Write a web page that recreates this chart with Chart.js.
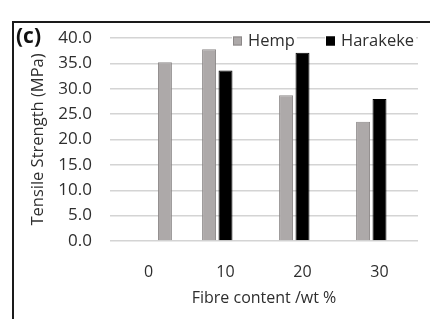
<!DOCTYPE html>
<html>
<head>
<meta charset="utf-8">
<script src="https://cdn.jsdelivr.net/npm/chart.js@4.4.1/dist/chart.umd.min.js"></script>
<style>
  html, body { margin: 0; padding: 0; background: #fff; }
  #wrap { position: relative; width: 430px; height: 319px; }
</style>
</head>
<body>
<div id="wrap"><canvas id="c" width="430" height="319"></canvas></div>
<script>
// chart data
const categories = ['0', '10', '20', '30'];
const hempValues = [null, 37.8, 28.7, 23.5];
const harakekeValues = [null, 33.6, 37.1, 28.0];
const neatValues = [35.2, null, null, null]; // unfilled matrix, drawn in hemp grey, no legend entry
const yTicks = [0, 5, 10, 15, 20, 25, 30, 35, 40];

const FONT = '"Open Sans", sans-serif';
const TEXT = '#2e2e2e';
const GREY = '#ada9a9';
const GREY_EDGE = '#8c8888';

// frame line and "(c)" panel tag
const framePlugin = {
  id: 'frame',
  afterDraw(chart) {
    const ctx = chart.ctx;
    ctx.save();
    ctx.strokeStyle = '#1a1a1a';
    ctx.lineWidth = 2;
    ctx.beginPath();
    ctx.moveTo(430, 22);
    ctx.lineTo(13, 22);
    ctx.lineTo(13, 319);
    ctx.stroke();
    ctx.fillStyle = '#111';
    ctx.font = 'bold 21px ' + FONT;
    ctx.textBaseline = 'middle';
    ctx.textAlign = 'left';
    ctx.fillText('(c)', 16, 37);
    ctx.restore();
  }
};

// legend drawn on top of the plot, like the original
const legendPlugin = {
  id: 'insideLegend',
  afterDraw(chart) {
    const ctx = chart.ctx;
    const items = [
      { text: 'Hemp', fill: GREY, edge: GREY_EDGE, x: 233 },
      { text: 'Harakeke', fill: '#000', edge: '#000', x: 326 }
    ];
    const y = 41;
    ctx.save();
    ctx.font = '16.5px ' + FONT;
    ctx.textBaseline = 'middle';
    ctx.textAlign = 'left';
    items.forEach(it => {
      const w = ctx.measureText(it.text).width;
      ctx.fillStyle = '#fff';
      ctx.fillRect(it.x - 1, y - 9, 16 + w + 2, 18);
      ctx.fillStyle = it.fill;
      ctx.fillRect(it.x, y - 4.5, 9, 9);
      ctx.strokeStyle = it.edge;
      ctx.lineWidth = 1;
      ctx.strokeRect(it.x + 0.5, y - 4, 8, 8);
      ctx.fillStyle = TEXT;
      ctx.fillText(it.text, it.x + 15, y);
    });
    ctx.restore();
  }
};

new Chart(document.getElementById('c'), {
  type: 'bar',
  data: {
    labels: categories,
    datasets: [
      { label: 'Hemp', data: hempValues, backgroundColor: GREY, borderColor: GREY_EDGE, borderWidth: 1 },
      { label: 'Harakeke', data: harakekeValues, backgroundColor: '#000', borderColor: '#000', borderWidth: 1 },
      { label: 'Neat', data: neatValues, backgroundColor: GREY, borderColor: GREY_EDGE, borderWidth: 1 }
    ]
  },
  options: {
    responsive: false,
    animation: false,
    devicePixelRatio: 1,
    layout: { padding: { left: 0, right: 12, top: 38, bottom: 0 } },
    datasets: { bar: { categoryPercentage: 0.64, barPercentage: 0.85 } },
    plugins: {
      legend: { display: false },
      tooltip: { enabled: false }
    },
    scales: {
      x: {
        grid: { display: false },
        border: { display: false },
        ticks: { color: TEXT, font: { family: FONT, size: 16 }, padding: 14 },
        title: {
          display: true,
          text: 'Fibre content /wt %',
          color: TEXT,
          font: { family: FONT, size: 16 },
          padding: { top: 4, bottom: 11 }
        },
        afterFit(scale) { scale.height = 78; }
      },
      y: {
        min: 0,
        max: 40,
        afterBuildTicks(scale) { scale.ticks = yTicks.map(v => ({ value: v })); },
        grid: { color: '#d4d4d4', lineWidth: 1.5, drawTicks: false },
        border: { display: false },
        ticks: {
          color: TEXT,
          font: { family: FONT, size: 17 },
          padding: 18,
          callback: v => v.toFixed(1)
        },
        title: {
          display: true,
          text: 'Tensile Strength (MPa)',
          color: TEXT,
          font: { family: FONT, size: 16.5 },
          padding: { top: 28, bottom: 0 }
        },
        afterFit(scale) { scale.width = 110; }
      }
    }
  },
  plugins: [framePlugin, legendPlugin]
});
</script>
</body>
</html>
